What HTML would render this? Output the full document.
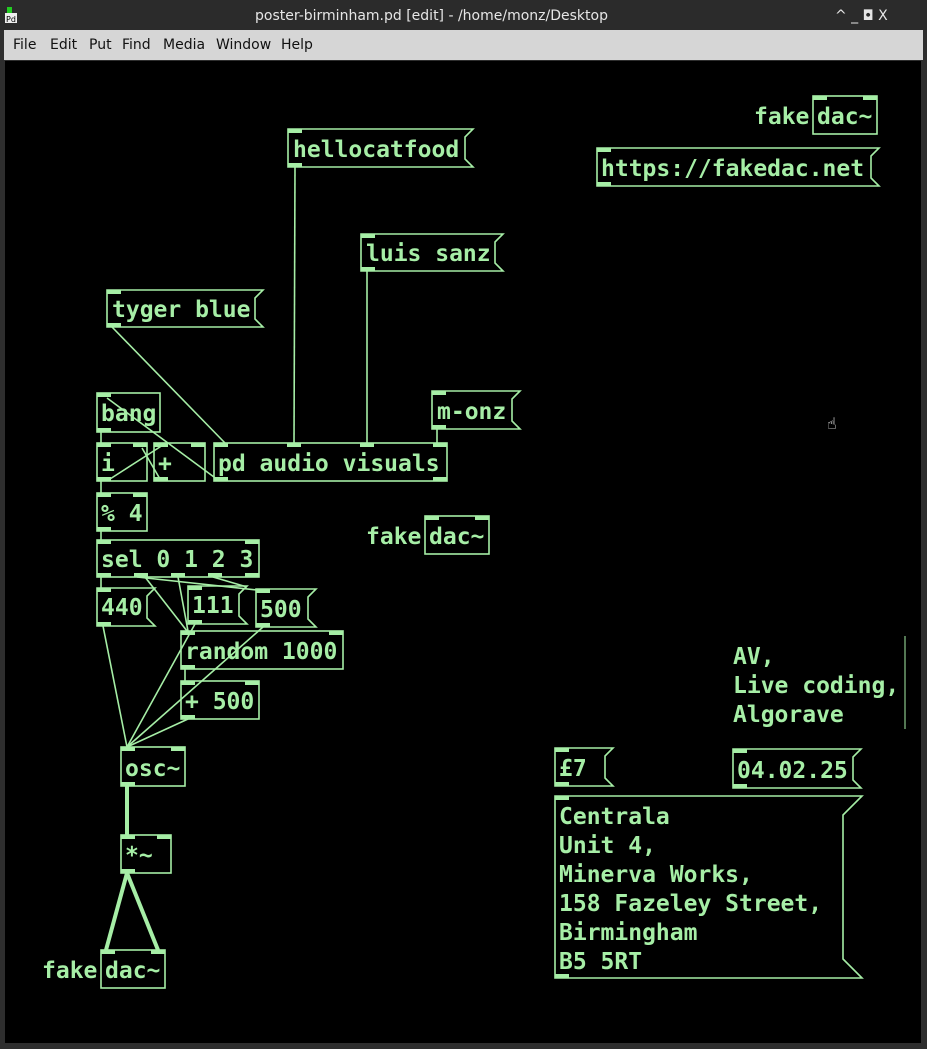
<!DOCTYPE html>
<html><head><meta charset="utf-8"><style>
html,body{margin:0;padding:0;width:927px;height:1049px;overflow:hidden;background:#3a3a3a}
svg{display:block}
text{font-family:"DejaVu Sans Mono","Liberation Mono",monospace;font-weight:bold;font-size:23px;fill:#a6eea6}
.ui{font-family:"DejaVu Sans","Liberation Sans",sans-serif;font-weight:normal;font-size:14px}
</style></head><body>
<svg width="927" height="1049" xmlns="http://www.w3.org/2000/svg">
<rect x="0" y="0" width="927" height="1049" fill="#2e2e2e"/>
<rect x="0" y="0" width="927" height="30" fill="#2b2b2b"/>
<rect x="7" y="7" width="5" height="6" fill="#2c2"/>
<rect x="5" y="13" width="12" height="10" fill="#eee"/>
<text x="6" y="22" style="font-size:8px;fill:#000;font-weight:normal;font-family:'DejaVu Sans',sans-serif">Pd</text>
<text class="ui" x="255" y="20" style="fill:#e6e6e6">poster-birminham.pd  [edit] - /home/monz/Desktop</text>
<text class="ui" x="835" y="20" style="fill:#e6e6e6">^  _  ◘  X</text>
<rect x="4" y="30" width="919" height="30" fill="#d6d6d6"/>
<text class="ui" y="49" style="fill:#111"><tspan x="13">File</tspan><tspan x="50">Edit</tspan><tspan x="89">Put</tspan><tspan x="122">Find</tspan><tspan x="163">Media</tspan><tspan x="216">Window</tspan><tspan x="281">Help</tspan></text>
<rect x="5" y="61" width="916" height="982" fill="#000"/>

<g stroke="#a6eea6" stroke-width="1.6" fill="none">
<!-- connections -->
<line x1="295" y1="167" x2="294" y2="443"/>
<line x1="367" y1="271" x2="367" y2="443"/>
<line x1="112" y1="327" x2="225" y2="443"/>
<line x1="437" y1="429" x2="437" y2="443"/>
<line x1="101" y1="432" x2="101" y2="443"/>
<line x1="107" y1="398" x2="218" y2="480"/>
<line x1="110" y1="479" x2="163" y2="445"/>
<line x1="142" y1="448" x2="160" y2="479"/>
<line x1="101" y1="481" x2="101" y2="493"/>
<line x1="101" y1="531" x2="101" y2="540"/>
<line x1="101" y1="577" x2="101" y2="588"/>
<line x1="137" y1="577" x2="257" y2="590"/>
<line x1="145" y1="577" x2="187" y2="631"/>
<line x1="178" y1="577" x2="188" y2="631"/>
<line x1="213" y1="577" x2="247" y2="587"/>
<line x1="103" y1="626" x2="127" y2="747"/>
<line x1="195" y1="624" x2="127" y2="747"/>
<line x1="263" y1="627" x2="127" y2="747"/>
<line x1="188" y1="719" x2="127" y2="747"/>
<line x1="185" y1="669" x2="185" y2="681"/>
<line x1="127" y1="786" x2="127" y2="835" stroke-width="4"/>
<line x1="127" y1="873" x2="106" y2="950" stroke-width="4"/>
<line x1="127" y1="873" x2="158" y2="950" stroke-width="4"/>
<line x1="905" y1="636" x2="905" y2="729" stroke-width="1"/>

<!-- message boxes -->
<polygon points="288,129 473,129 465,137 465,159 473,167 288,167"/>
<polygon points="361,234 503,234 495,242 495,263 503,271 361,271"/>
<polygon points="107,290 263,290 255,298 255,319 263,327 107,327"/>
<polygon points="432,391 520,391 512,399 512,421 520,429 432,429"/>
<polygon points="597,148 879,148 871,156 871,178 879,186 597,186"/>
<polygon points="97,588 155,588 147,596 147,618 155,626 97,626"/>
<polygon points="188,586 247,586 239,594 239,616 247,624 188,624"/>
<polygon points="256,589 316,589 308,597 308,619 316,627 256,627"/>
<polygon points="555,748 613,748 605,756 605,778 613,786 555,786"/>
<polygon points="733,749 861,749 853,757 853,780 861,788 733,788"/>
<polygon points="555,796 862,796 843,815 843,959 862,978 555,978"/>

<!-- object boxes -->
<rect x="97" y="393" width="63" height="39"/>
<rect x="97" y="443" width="50" height="38"/>
<rect x="154" y="443" width="51" height="38"/>
<rect x="214" y="443" width="233" height="38"/>
<rect x="97" y="493" width="50" height="38"/>
<rect x="97" y="540" width="162" height="37"/>
<rect x="181" y="631" width="162" height="38"/>
<rect x="181" y="681" width="78" height="38"/>
<rect x="121" y="747" width="64" height="39"/>
<rect x="121" y="835" width="50" height="38"/>
<rect x="101" y="950" width="64" height="38"/>
<rect x="425" y="516" width="64" height="38"/>
<rect x="813" y="96" width="64" height="38"/>
</g>

<g fill="#a6eea6">
<!-- inlets/outlets -->
<rect x="288" y="129" width="14" height="4"/><rect x="288" y="163" width="14" height="4"/>
<rect x="361" y="234" width="14" height="4"/><rect x="361" y="267" width="14" height="4"/>
<rect x="107" y="290" width="14" height="4"/><rect x="107" y="323" width="14" height="4"/>
<rect x="432" y="391" width="14" height="4"/><rect x="432" y="425" width="14" height="4"/>
<rect x="597" y="148" width="14" height="4"/><rect x="597" y="182" width="14" height="4"/>
<rect x="97" y="393" width="14" height="4"/><rect x="97" y="428" width="14" height="4"/>
<rect x="97" y="443" width="14" height="4"/><rect x="133" y="443" width="14" height="4"/><rect x="97" y="477" width="14" height="4"/>
<rect x="154" y="443" width="14" height="4"/><rect x="191" y="443" width="14" height="4"/><rect x="154" y="477" width="14" height="4"/>
<rect x="214" y="443" width="14" height="4"/><rect x="287" y="443" width="14" height="4"/><rect x="360" y="443" width="14" height="4"/><rect x="433" y="443" width="14" height="4"/><rect x="214" y="477" width="14" height="4"/><rect x="433" y="477" width="14" height="4"/>
<rect x="97" y="493" width="14" height="4"/><rect x="133" y="493" width="14" height="4"/><rect x="97" y="527" width="14" height="4"/>
<rect x="97" y="540" width="14" height="4"/><rect x="245" y="540" width="14" height="4"/>
<rect x="97" y="573" width="14" height="4"/><rect x="134" y="573" width="14" height="4"/><rect x="171" y="573" width="14" height="4"/><rect x="208" y="573" width="14" height="4"/><rect x="245" y="573" width="14" height="4"/>
<rect x="97" y="588" width="14" height="4"/><rect x="97" y="622" width="14" height="4"/>
<rect x="188" y="586" width="14" height="4"/><rect x="188" y="620" width="14" height="4"/>
<rect x="256" y="589" width="14" height="4"/><rect x="256" y="623" width="14" height="4"/>
<rect x="181" y="631" width="14" height="4"/><rect x="329" y="631" width="14" height="4"/><rect x="181" y="665" width="14" height="4"/>
<rect x="181" y="681" width="14" height="4"/><rect x="245" y="681" width="14" height="4"/><rect x="181" y="715" width="14" height="4"/>
<rect x="121" y="747" width="14" height="4"/><rect x="171" y="747" width="14" height="4"/><rect x="121" y="782" width="14" height="4"/>
<rect x="121" y="835" width="14" height="4"/><rect x="157" y="835" width="14" height="4"/><rect x="121" y="869" width="14" height="4"/>
<rect x="101" y="950" width="14" height="4"/><rect x="151" y="950" width="14" height="4"/>
<rect x="425" y="516" width="14" height="4"/><rect x="475" y="516" width="14" height="4"/>
<rect x="813" y="96" width="14" height="4"/><rect x="863" y="96" width="14" height="4"/>
<rect x="555" y="748" width="14" height="4"/><rect x="555" y="782" width="14" height="4"/>
<rect x="733" y="749" width="14" height="4"/><rect x="733" y="784" width="14" height="4"/>
<rect x="555" y="796" width="14" height="4"/><rect x="555" y="974" width="14" height="4"/>
</g>

<text x="293" y="157">hellocatfood</text>
<text x="366" y="261">luis sanz</text>
<text x="112" y="317">tyger blue</text>
<text x="437" y="419">m-onz</text>
<text x="601" y="176">https://fakedac.net</text>
<text x="754" y="124">fake</text><text x="817" y="124">dac~</text>
<text x="101" y="421">bang</text>
<text x="101" y="471">i</text>
<text x="158" y="471">+</text>
<text x="218" y="471">pd audio visuals</text>
<text x="101" y="521">% 4</text>
<text x="366" y="544">fake</text><text x="429" y="544">dac~</text>
<text x="101" y="567">sel 0 1 2 3</text>
<text x="101" y="615">440</text>
<text x="192" y="613">111</text>
<text x="260" y="617">500</text>
<text x="185" y="659">random 1000</text>
<text x="185" y="709">+ 500</text>
<text x="125" y="776">osc~</text>
<text x="125" y="863">*~</text>
<text x="42" y="978">fake</text><text x="105" y="978">dac~</text>
<text x="733" y="664">AV,</text>
<text x="733" y="693">Live coding,</text>
<text x="733" y="722">Algorave</text>
<text x="559" y="776">£7</text>
<text x="737" y="778">04.02.25</text>
<text x="559" y="824">Centrala</text>
<text x="559" y="853">Unit 4,</text>
<text x="559" y="882">Minerva Works,</text>
<text x="559" y="911">158 Fazeley Street,</text>
<text x="559" y="940">Birmingham</text>
<text x="559" y="969">B5 5RT</text>
<text x="827" y="429" style="font-size:16px;fill:#fff;font-weight:normal">☝</text>
</svg>
</body></html>
